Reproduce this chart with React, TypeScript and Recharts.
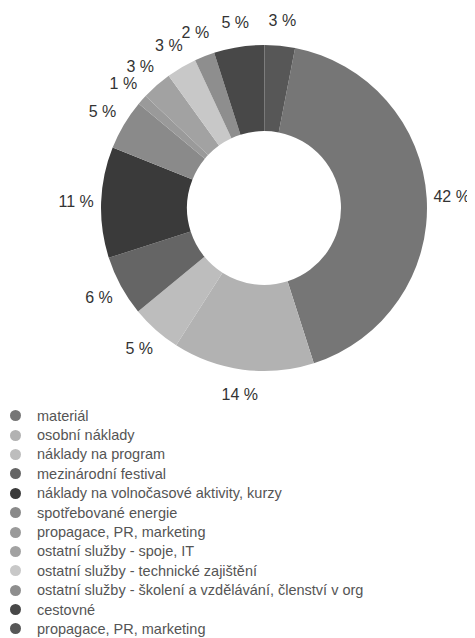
import React from 'react';
import { PieChart, Pie, Cell, Legend } from 'recharts';

const categories = [
  'materiál',
  'osobní náklady',
  'náklady na program',
  'mezinárodní festival',
  'náklady na volnočasové aktivity, kurzy',
  'spotřebované energie',
  'propagace, PR, marketing',
  'ostatní služby - spoje, IT',
  'ostatní služby - technické zajištění',
  'ostatní služby - školení a vzdělávání, členství v org',
  'cestovné',
  'propagace, PR, marketing ',
];

const shares = [42, 14, 5, 6, 11, 5, 1, 3, 3, 2, 5, 3];

const grays = [
  '#767676',
  '#b2b2b2',
  '#bdbdbd',
  '#656565',
  '#3a3a3a',
  '#8a8a8a',
  '#9a9a9a',
  '#a2a2a2',
  '#c8c8c8',
  '#8e8e8e',
  '#484848',
  '#575757',
];

const data = categories.map((name, i) => ({ name, value: shares[i] }));

const RAD = Math.PI / 180;
const FONT = "'Liberation Sans', Arial, sans-serif";

const renderLabel = (props: any) => {
  const { cx, cy, midAngle, outerRadius, value } = props;
  const r = outerRadius + 25;
  const x = cx + r * Math.cos(-midAngle * RAD);
  const y = cy + r * Math.sin(-midAngle * RAD);
  return (
    <text
      x={x}
      y={y}
      textAnchor="middle"
      dominantBaseline="central"
      fill="#333"
      fontSize={16}
      fontFamily={FONT}
    >
      {`${value} %`}
    </text>
  );
};

// keep the legend in data order (recharts sorts the payload by name)
const renderLegend = () => (
  <div style={{ fontFamily: FONT }}>
    {categories.map((name, i) => (
      <div key={i} style={{ display: 'flex', alignItems: 'center', height: 19.4 }}>
        <span
          style={{
            width: 11,
            height: 11,
            borderRadius: '50%',
            background: grays[i],
            marginLeft: 2,
            marginRight: 16,
            flexShrink: 0,
          }}
        />
        <span style={{ color: '#555', fontSize: 14.5, whiteSpace: 'nowrap' }}>{name.trim()}</span>
      </div>
    ))}
  </div>
);

export default function App() {
  return (
    <PieChart width={467} height={630} margin={{ top: 0, right: 0, bottom: 0, left: 0 }}>
      <Pie
        data={data}
        dataKey="value"
        nameKey="name"
        cx={256}
        cy={200}
        innerRadius={77}
        outerRadius={163}
        startAngle={79}
        endAngle={-281}
        stroke="none"
        labelLine={false}
        label={renderLabel}
        isAnimationActive={false}
      >
        {data.map((d, i) => (
          <Cell key={d.name + i} fill={grays[i]} />
        ))}
      </Pie>
      <Legend
        layout="horizontal"
        verticalAlign="bottom"
        align="left"
        content={renderLegend}
        wrapperStyle={{ left: 0, top: 398, bottom: 'auto', width: 467 }}
      />
    </PieChart>
  );
}
